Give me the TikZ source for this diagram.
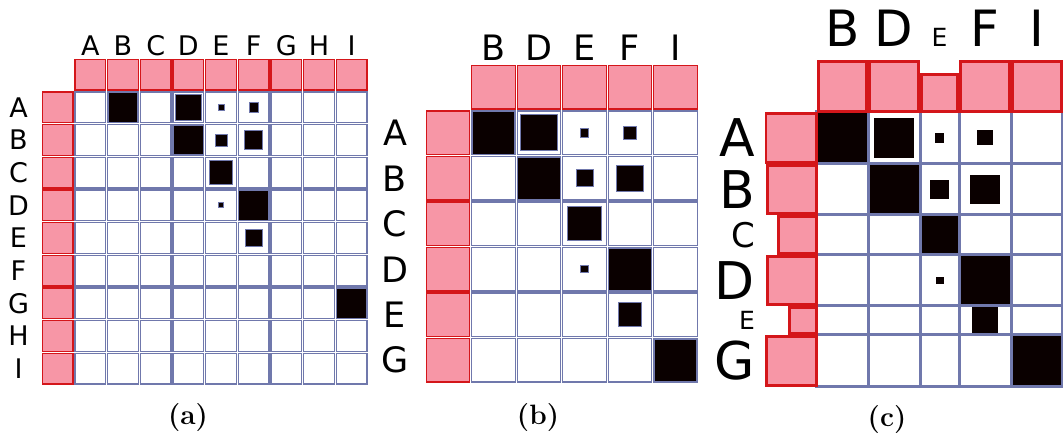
\documentclass[tikz,border=0pt]{standalone}
\usepackage{fontspec}
\setsansfont{DejaVu Sans}
\usepackage{xcolor}
\usepackage{tikz}
\definecolor{hdrpink}{RGB}{247,150,166}
\definecolor{hdrred}{RGB}{212,22,26}
\definecolor{gridblue}{RGB}{112,120,172}
\definecolor{blkfill}{RGB}{10,0,0}

\begin{document}
\begin{tikzpicture}[x=1pt, y=-1pt,
    hdr/.style={fill=hdrpink, draw=hdrred, line width=1.4pt},
    cell/.style={fill=white, draw=gridblue, line width=1.4pt},
    blk/.style={fill=blkfill, draw=gridblue, line width=0.8pt},
    hdrc/.style={fill=hdrpink, draw=hdrred, line width=2.8pt},
    cellc/.style={fill=white, draw=gridblue, line width=3pt},
    lbl/.style={inner sep=0pt, font=\sffamily\fontsize{#1}{#1}\selectfont},
    captxt/.style={inner sep=0pt, font=\bfseries\fontsize{28}{28}\selectfont}
]
\useasboundingbox (0,0) rectangle (1063,438);

% (a) full matrix
\def\ax{74}\def\ay{91}\def\ac{32.67}
\foreach \l [count=\i from 0] in {A,B,C,D,E,F,G,H,I} {
    \draw[hdr] (\ax+\i*\ac+1, \ay-\ac+1) rectangle ++(\ac-2,\ac-2);
    \draw[hdr] (\ax-\ac+1, \ay+\i*\ac+1) rectangle ++(\ac-2,\ac-2);
    \node[lbl=27] (acol\l) at (\ax+\i*\ac+\ac/2, 46) {\l};
    \node[lbl=27] (arow\l) at (18.5, \ay+\i*\ac+\ac/2) {\l};
    \foreach \j in {0,...,8}
        \draw[cell] (\ax+\j*\ac+1, \ay+\i*\ac+1) rectangle ++(\ac-2,\ac-2);
}
\foreach \r/\c/\f in {0/1/1, 0/3/.85, 0/4/.2, 0/5/.32, 1/3/1, 1/4/.4, 1/5/.62,
                      2/4/.8, 3/4/.17, 3/5/1, 4/5/.56, 6/8/1} {
    \pgfmathsetmacro\bs{\f*(\ac-3)}
    \draw[blk] (\ax+\c*\ac+\ac/2-\bs/2, \ay+\r*\ac+\ac/2-\bs/2) rectangle ++(\bs,\bs);
}
\node[captxt] (capa) at (188,418) {(a)};

% (b) reduced matrix
\def\bx{470.7}\def\by{110}\def\bc{45.5}
\foreach \l [count=\i from 0] in {B,D,E,F,I} {
    \draw[hdr] (\bx+\i*\bc+1, \by-\bc+1) rectangle ++(\bc-2,\bc-2);
    \node[lbl=35] (bcol\l) at (\bx+\i*\bc+\bc/2, 47.5) {\l};
}
\foreach \l [count=\i from 0] in {A,B,C,D,E,G} {
    \draw[hdr] (\bx-\bc+1, \by+\i*\bc+1) rectangle ++(\bc-2,\bc-2);
    \node[lbl=35] (brow\l) at (395, \by+\i*\bc+\bc/2) {\l};
    \foreach \j in {0,...,4}
        \draw[cell] (\bx+\j*\bc+1, \by+\i*\bc+1) rectangle ++(\bc-2,\bc-2);
}
\foreach \r/\c/\f in {0/0/1, 0/1/.85, 0/2/.2, 0/3/.32, 1/1/1, 1/2/.4, 1/3/.62,
                      2/2/.8, 3/2/.17, 3/3/1, 4/3/.56, 5/4/1} {
    \pgfmathsetmacro\bs{\f*(\bc-3)}
    \draw[blk] (\bx+\c*\bc+\bc/2-\bs/2, \by+\r*\bc+\bc/2-\bs/2) rectangle ++(\bs,\bs);
}
\node[captxt] (capb) at (538,418) {(b)};

% (c) weighted matrix
\foreach \x/\w in {816.7/51.6, 868.3/51.7, 920/39, 959/52, 1011/51.7}
    \foreach \y/\h in {111.7/52.3, 164/51, 215/40, 255/51, 306/29, 335/51.7}
        \draw[cellc] (\x,\y) rectangle ++(\w,\h);
\foreach \x/\w/\l/\fs in {816.7/51.6/B/50, 868.3/51.7/D/50, 920/39/E/25, 959/52/F/50, 1011/51.7/I/50} {
    \draw[hdrc] (\x+1.5, 111.7-\w+1.5) rectangle (\x+\w-1.5, 111.7);
    \node[lbl=\fs, anchor=base] (ccol\l) at (\x+\w/2, 46.7) {\l};
}
\foreach \y/\h/\l/\fs in {111.7/52.3/A/52, 164/51/B/52, 215/40/C/34, 255/51/D/52, 306/29/E/25, 335/51.7/G/52} {
    \draw[hdrc] (816.7-\h+1.5, \y+1.5) rectangle (816.7, \y+\h-1.5);
    \node[lbl=\fs, anchor=east] (crow\l) at (755, \y+\h/2) {\l};
}
\foreach \x/\w/\y/\h/\f in {816.7/51.6/111.7/52.3/1.2, 868.3/51.7/111.7/52.3/.85,
        920/39/111.7/52.3/.2, 959/52/111.7/52.3/.32, 868.3/51.7/164/51/1.2,
        920/39/164/51/.4, 959/52/164/51/.62, 920/39/215/40/.8, 920/39/255/51/.17,
        959/52/255/51/1.2, 959/52/306/29/.56, 1011/51.7/335/51.7/1.2} {
    \pgfmathsetmacro\bw{min(\f*47,\w-3)}
    \pgfmathsetmacro\bh{min(\f*47,\h-3)}
    \fill[blkfill] (\x+\w/2-\bw/2, \y+\h/2-\bh/2) rectangle ++(\bw,\bh);
}
\node[captxt] (capc) at (887,420) {(c)};
\end{tikzpicture}
\end{document}
